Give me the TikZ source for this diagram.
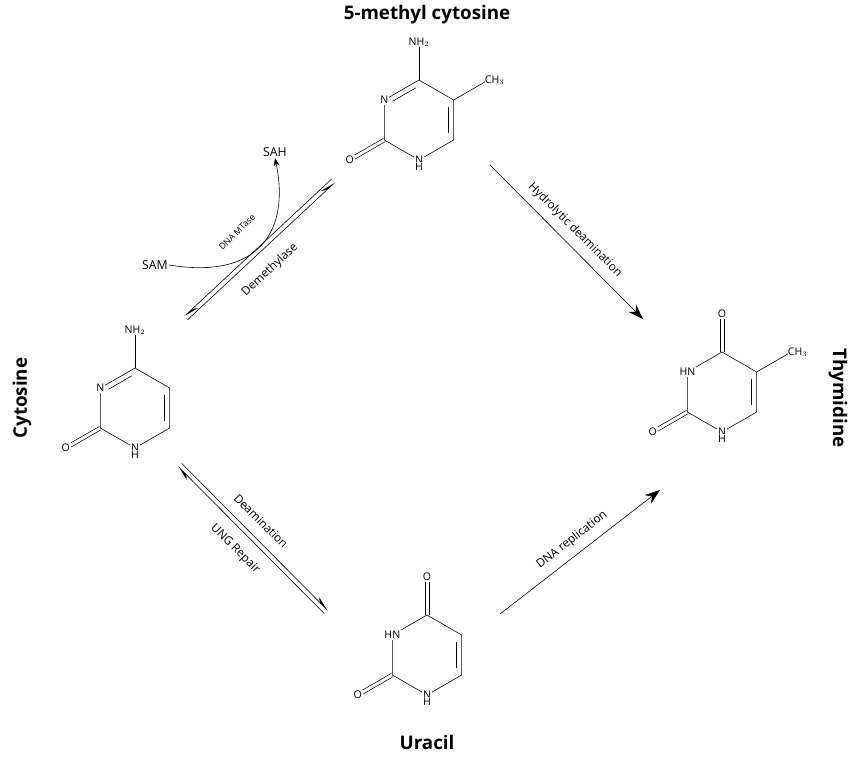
\documentclass[tikz,border=0pt]{standalone}
\usepackage{fontspec}
\setmainfont{Open Sans}
\usetikzlibrary{arrows.meta,calc,positioning}

\newcommand{\ring}[3]{% name, cx, cy
	\coordinate (#1) at (#2,#3);
	\coordinate (#1c4) at ($(#1)+(-90:40)$);
	\coordinate (#1n3) at ($(#1)+(-150:40)$);
	\coordinate (#1c2) at ($(#1)+(-210:40)$);
	\coordinate (#1n1) at ($(#1)+(-270:40)$);
	\coordinate (#1c6) at ($(#1)+(-330:40)$);
	\coordinate (#1c5) at ($(#1)+(-30:40)$);
	\draw (#1c4) -- (#1n3) -- (#1c2) -- (#1n1) -- (#1c6) -- (#1c5) -- cycle;
	\draw[shorten <=3pt,shorten >=3pt] ($(#1c5)!.15!(#1)$) -- ($(#1c6)!.15!(#1)$);
	\coordinate (#1o2) at ($(#1c2)+(-210:40)$);
	\draw[dbl] ($(#1c2)!1.6pt!90:(#1o2)$) -- ($(#1o2)!1.6pt!-90:(#1c2)$);
	\draw[dbl] ($(#1c2)!1.6pt!-90:(#1o2)$) -- ($(#1o2)!1.6pt!90:(#1c2)$);
	\node[atom] (#1O) at (#1o2) {O};
	\node[atom] (#1N) at (#1n1) {N};
	\node[atom,below=-3pt of #1N] (#1H) {H};
}

\begin{document}
\begin{tikzpicture}[x=0.03cm,y=-0.03cm,line width=0.5pt,
		>={Stealth[length=13pt,width=9pt]},%
		atom/.style={fill=white,inner sep=0.8pt,font=\fontsize{9}{9}\selectfont},
		dbl/.style={line width=0.45pt},
		title/.style={font=\fontsize{16}{16}\selectfont\bfseries},
		lab/.style={font=\fontsize{10}{10}\selectfont,inner sep=1pt},
		harp/.style={-{Stealth[harpoon,length=12pt,width=5.5pt]}}
		]
	\useasboundingbox (0,0) rectangle (858,761);

	%% 5-methyl cytosine
	\ring{mc}{419}{120}
	\draw[shorten <=3pt,shorten >=3pt] ($(mcc4)!.15!(mc)$) -- ($(mcn3)!.15!(mc)$);
	\coordinate (mcn4) at ($(mcc4)+(0,-38)$);
	\coordinate (mcme) at ($(mcc5)+(-30:38)$);
	\draw (mcc4) -- (mcn4);
	\draw (mcc5) -- (mcme);
	\node[atom] at (mcn3) {N};
	\node[atom] at (mcn4) {NH$_2$};
	\node[atom,anchor=south west,inner sep=0pt] at ($(mcme)+(-2,4)$) {CH$_3$};

	%% Cytosine
	\ring{cy}{135}{408}
	\draw[shorten <=3pt,shorten >=3pt] ($(cyc4)!.15!(cy)$) -- ($(cyn3)!.15!(cy)$);
	\coordinate (cyn4) at ($(cyc4)+(0,-38)$);
	\draw (cyc4) -- (cyn4);
	\node[atom] at (cyn3) {N};
	\node[atom] at (cyn4) {NH$_2$};

	%% Thymidine
	\ring{th}{722}{392}
	\coordinate (tho4) at ($(thc4)+(0,-38)$);
	\coordinate (thme) at ($(thc5)+(-30:38)$);
	\draw[dbl] ($(thc4)+(-1.6pt,0)$) -- ($(tho4)+(-1.6pt,0)$);
	\draw[dbl] ($(thc4)+(1.6pt,0)$) -- ($(tho4)+(1.6pt,0)$);
	\draw (thc5) -- (thme);
	\node[atom] at (thn3) {HN};
	\node[atom] at (tho4) {O};
	\node[atom,anchor=south west,inner sep=0pt] at ($(thme)+(-2,4)$) {CH$_3$};

	%% Uracil
	\ring{ur}{427}{655}
	\coordinate (uro4) at ($(urc4)+(0,-38)$);
	\draw[dbl] ($(urc4)+(-1.6pt,0)$) -- ($(uro4)+(-1.6pt,0)$);
	\draw[dbl] ($(urc4)+(1.6pt,0)$) -- ($(uro4)+(1.6pt,0)$);
	\node[atom] at (urn3) {HN};
	\node[atom] at (uro4) {O};

	%% titles
	\node[title] (tmc) at (427,15) {5-methyl cytosine};
	\node[title,rotate=90] (tcy) at (22,398) {Cytosine};
	\node[title,rotate=-90] (tth) at (838,398) {Thymidine};
	\node[title] (tur) at (427,742) {Uracil};

	%% reaction arrows
	\coordinate (a1) at (490,165); \coordinate (a2) at (643,319);
	\draw[->] (a1) -- (a2);
	\node[lab,rotate=-45] (hyd) at (575,230) {Hydrolytic deamination};
	\coordinate (b1) at (500,614); \coordinate (b2) at (660,490);
	\draw[->] (b1) -- (b2);
	\node[lab,rotate=38] (rep) at (572,540) {DNA replication};

	\coordinate (c1) at (186,318); \coordinate (c2) at (333,181);
	\draw[harp] ($(c1)!2pt!-90:(c2)$) -- ($(c2)!2pt!90:(c1)$);
	\draw[harp] ($(c2)!2pt!-90:(c1)$) -- ($(c1)!2pt!90:(c2)$);
	\node[lab,rotate=43] (dem) at (270,270) {Demethylase};

	\coordinate (d1) at (180,465); \coordinate (d2) at (326,612);
	\draw[harp] ($(d1)!2pt!90:(d2)$) -- ($(d2)!2pt!-90:(d1)$);
	\draw[harp] ($(d2)!2pt!90:(d1)$) -- ($(d1)!2pt!-90:(d2)$);
	\node[lab,rotate=-45] (dea) at (261,521) {Deamination};
	\node[lab,rotate=-45] (ung) at (235,549) {UNG Repair};

	%% methyl donor
	\node[lab,font=\fontsize{10.5}{10}\selectfont] (sam) at (155,265) {SAM};
	\node[lab,font=\fontsize{10.5}{10}\selectfont] (sah) at (275,152) {SAH};
	\draw[-{Stealth[length=7pt,width=5pt]}] (sam.east) .. controls (260,280) and (290,230) .. (sah.south);
	\node[lab,rotate=45,font=\fontsize{7.5}{8}\selectfont] (mta) at (237,232) {DNA MTase};
\end{tikzpicture}
\end{document}
